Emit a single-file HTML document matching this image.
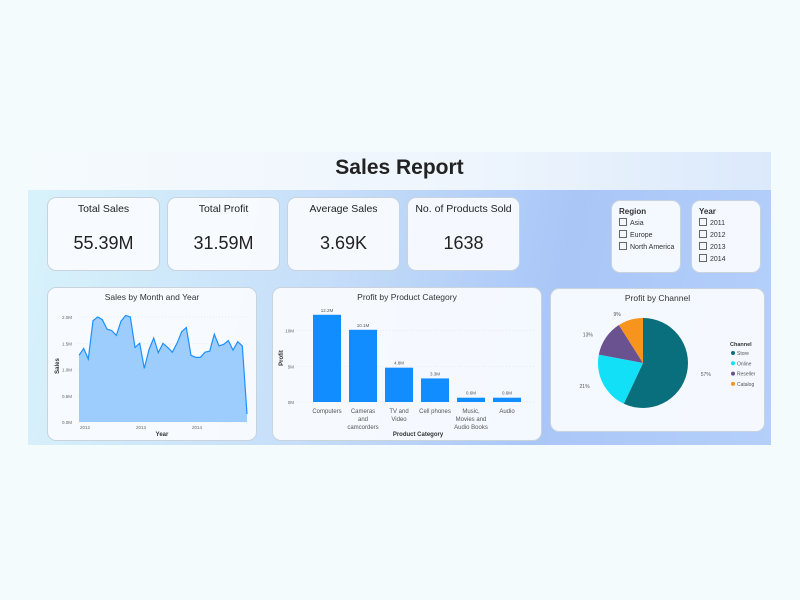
<!DOCTYPE html>
<html><head><meta charset="utf-8"><style>
body{margin:0;width:800px;height:600px;background:#f3fbfc;font-family:"Liberation Sans",sans-serif;position:relative;overflow:hidden}
.abs{position:absolute}
.dash{left:28px;top:152px;width:743px;height:293px;background:linear-gradient(100deg,#d9f3fb 0%,#c6def9 40%,#a9c6f7 70%,#b4cffa 100%)}
.band{left:28px;top:152px;width:743px;height:38px;background:linear-gradient(90deg,#f5fafd,#eef5fd 60%,#dbe9fb)}
.card{background:rgba(250,252,255,0.93);border:1px solid #c9d3de;border-radius:9px;box-sizing:border-box}
.kt{font-size:10.5px;color:#222;text-align:center;margin-top:5px}
.kv{font-size:18px;color:#222;text-align:center;margin-top:18px}
.ct{font-size:8.5px;color:#333;text-align:center;margin-top:4px}
.sl{font-size:7px;color:#333}
.cb{display:inline-block;width:6px;height:6px;border:1px solid #666;vertical-align:-1px;margin-right:3px}
svg text{font-family:"Liberation Sans",sans-serif}
</style></head><body>
<div class="abs dash"></div>
<div class="abs band"></div>
<div class="abs" style="left:28px;top:156px;width:743px;text-align:center;font-size:21px;font-weight:bold;color:#222">Sales Report</div>

<div class="abs card" style="left:47px;top:197px;width:113px;height:74px"><div class="kt">Total Sales</div><div class="kv">55.39M</div></div>
<div class="abs card" style="left:167px;top:197px;width:113px;height:74px"><div class="kt">Total Profit</div><div class="kv">31.59M</div></div>
<div class="abs card" style="left:287px;top:197px;width:113px;height:74px"><div class="kt">Average Sales</div><div class="kv">3.69K</div></div>
<div class="abs card" style="left:407px;top:197px;width:113px;height:74px"><div class="kt">No. of Products Sold</div><div class="kv">1638</div></div>

<div class="abs card" style="left:611px;top:200px;width:70px;height:73px;padding:6px 0 0 7px">
<div class="sl" style="font-weight:bold;font-size:8px;margin-bottom:2px">Region</div>
<div class="sl" style="margin-bottom:3px"><span class="cb"></span>Asia</div>
<div class="sl" style="margin-bottom:3px"><span class="cb"></span>Europe</div>
<div class="sl"><span class="cb"></span>North America</div></div>
<div class="abs card" style="left:691px;top:200px;width:70px;height:73px;padding:6px 0 0 7px">
<div class="sl" style="font-weight:bold;font-size:8px;margin-bottom:2px">Year</div>
<div class="sl" style="margin-bottom:3px"><span class="cb"></span>2011</div>
<div class="sl" style="margin-bottom:3px"><span class="cb"></span>2012</div>
<div class="sl" style="margin-bottom:3px"><span class="cb"></span>2013</div>
<div class="sl"><span class="cb"></span>2014</div></div>

<div class="abs card" style="left:47px;top:287px;width:210px;height:154px"><div class="ct">Sales by Month and Year</div></div>
<div class="abs card" style="left:272px;top:287px;width:270px;height:154px"><div class="ct">Profit by Product Category</div></div>
<div class="abs card" style="left:550px;top:288px;width:215px;height:144px"><div class="ct">Profit by Channel</div></div>

<svg class="abs" style="left:0;top:0" width="800" height="600" id="charts"></svg>
<script>
const salesValues=[1.27,1.40,1.20,1.93,2.00,1.95,1.77,1.74,1.65,1.92,2.03,2.00,1.42,1.50,1.02,1.38,1.60,1.32,1.50,1.42,1.33,1.50,1.72,1.80,1.27,1.23,1.23,1.33,1.35,1.67,1.45,1.48,1.55,1.37,1.53,1.45,0.15];
const salesTicks=[0,0.5,1,1.5,2];
const salesTickLabels=["0.0M","0.5M","1.0M","1.5M","2.0M"];
const yearLabels=["2012","2013","2014"];
const yearIndex=[0,12,24];
const categories=["Computers","Cameras|and|camcorders","TV and|Video","Cell phones","Music,|Movies and|Audio Books","Audio"];
const profitValues=[12.2,10.1,4.8,3.3,0.6,0.6];
const profitLabels=["12.2M","10.1M","4.8M","3.3M","0.6M","0.6M"];
const profitTicks=[0,5,10];
const channels=["Store","Online","Reseller","Catalog"];
const channelShares=[57,21,13,9];
const channelColors=["#0a6f7c","#12e0f7","#6a5290","#f7941d"];
const NS="http://www.w3.org/2000/svg";
const svg=document.getElementById('charts');
function mk(t,a,txt){const e=document.createElementNS(NS,t);for(const k in a)e.setAttribute(k,a[k]);if(txt!==undefined)e.textContent=txt;svg.appendChild(e);return e;}
// line chart
const lx=i=>79+i*(168/(salesValues.length-1));
const ly=v=>422-v*52.5;
salesTicks.forEach((t,i)=>{let g=mk('line',{x1:78,x2:248,y1:ly(t),y2:ly(t),stroke:'#ddd','stroke-dasharray':'1,2','stroke-width':0.5});
let l=mk('text',{x:72,y:ly(t)+2,'font-size':4.5,fill:'#666','text-anchor':'end'},salesTickLabels[i]);});
yearLabels.forEach((y,i)=>{let l=mk('text',{x:lx(yearIndex[i])+1,y:429,'font-size':4.5,fill:'#666'},y);});
let pts=salesValues.map((v,i)=>lx(i).toFixed(1)+','+ly(v).toFixed(1)).join(' ');
let area=mk('polygon',{points:lx(0)+','+ly(0)+' '+pts+' '+lx(salesValues.length-1)+','+ly(0),fill:'#9ccdfc'});

let line=mk('polyline',{points:pts,fill:'none',stroke:'#1e90ff','stroke-width':1.2});

let t1=mk('text',{x:162,y:436,'font-size':6,'font-weight':'bold',fill:'#333','text-anchor':'middle'},'Year');
let t2=mk('text',{x:59,y:366,'font-size':6,'font-weight':'bold',fill:'#333','text-anchor':'middle',transform:'rotate(-90 59 366)'},'Sales');
// bar chart
const bx=i=>327+i*36;
const by=v=>402-v*7.15;
profitTicks.forEach(t=>{let g=mk('line',{x1:296,x2:536,y1:by(t),y2:by(t),stroke:'#ddd','stroke-dasharray':'1,2','stroke-width':0.5});
let l=mk('text',{x:294,y:by(t)+2,'font-size':4.5,fill:'#666','text-anchor':'end'},t+'M');});
profitValues.forEach((v,i)=>{let r=mk('rect',{x:bx(i)-14,y:by(v),width:28,height:by(0)-by(v),fill:'#118dff'});
let l=mk('text',{x:bx(i),y:by(v)-3,'font-size':4.5,fill:'#555','text-anchor':'middle'},profitLabels[i]);
categories[i].split('|').forEach((s,j)=>{let c=mk('text',{x:bx(i),y:413+j*8,'font-size':6,fill:'#555','text-anchor':'middle'},s);});});
let t3=mk('text',{x:418,y:436,'font-size':6,'font-weight':'bold',fill:'#333','text-anchor':'middle'},'Product Category');
let t4=mk('text',{x:283,y:358,'font-size':6,'font-weight':'bold',fill:'#333','text-anchor':'middle',transform:'rotate(-90 283 358)'},'Profit');
// pie
const cx=643,cy=363,R=45;
const total=channelShares.reduce((a,b)=>a+b,0);
let ang=0;
channelShares.forEach((s,i)=>{const a0=ang,a1=ang+s/total*2*Math.PI;ang=a1;
const p=a=>[cx+R*Math.sin(a),cy-R*Math.cos(a)];
const [x0,y0]=p(a0),[x1,y1]=p(a1);
let path=mk('path',{d:`M${cx},${cy} L${x0},${y0} A${R},${R} 0 ${a1-a0>Math.PI?1:0} 1 ${x1},${y1} Z`,fill:channelColors[i]});

const am=(a0+a1)/2,lx2=cx+(R+6)*Math.sin(am),ly2=cy-(R+6)*Math.cos(am);
let lb=mk('text',{x:lx2+(Math.sin(am)>0?8:-8),y:ly2+2,'font-size':5,fill:'#555','text-anchor':Math.sin(am)>0?'start':'end'},s+'%');
});
let lt=mk('text',{x:730,y:346,'font-size':5.5,'font-weight':'bold',fill:'#333'},'Channel');
channels.forEach((c,i)=>{let d=mk('circle',{cx:733,cy:353+i*10.3,r:2,fill:channelColors[i]});
let t=mk('text',{x:737,y:355+i*10.3,'font-size':5,fill:'#555'},c);});
</script>
</body></html>
